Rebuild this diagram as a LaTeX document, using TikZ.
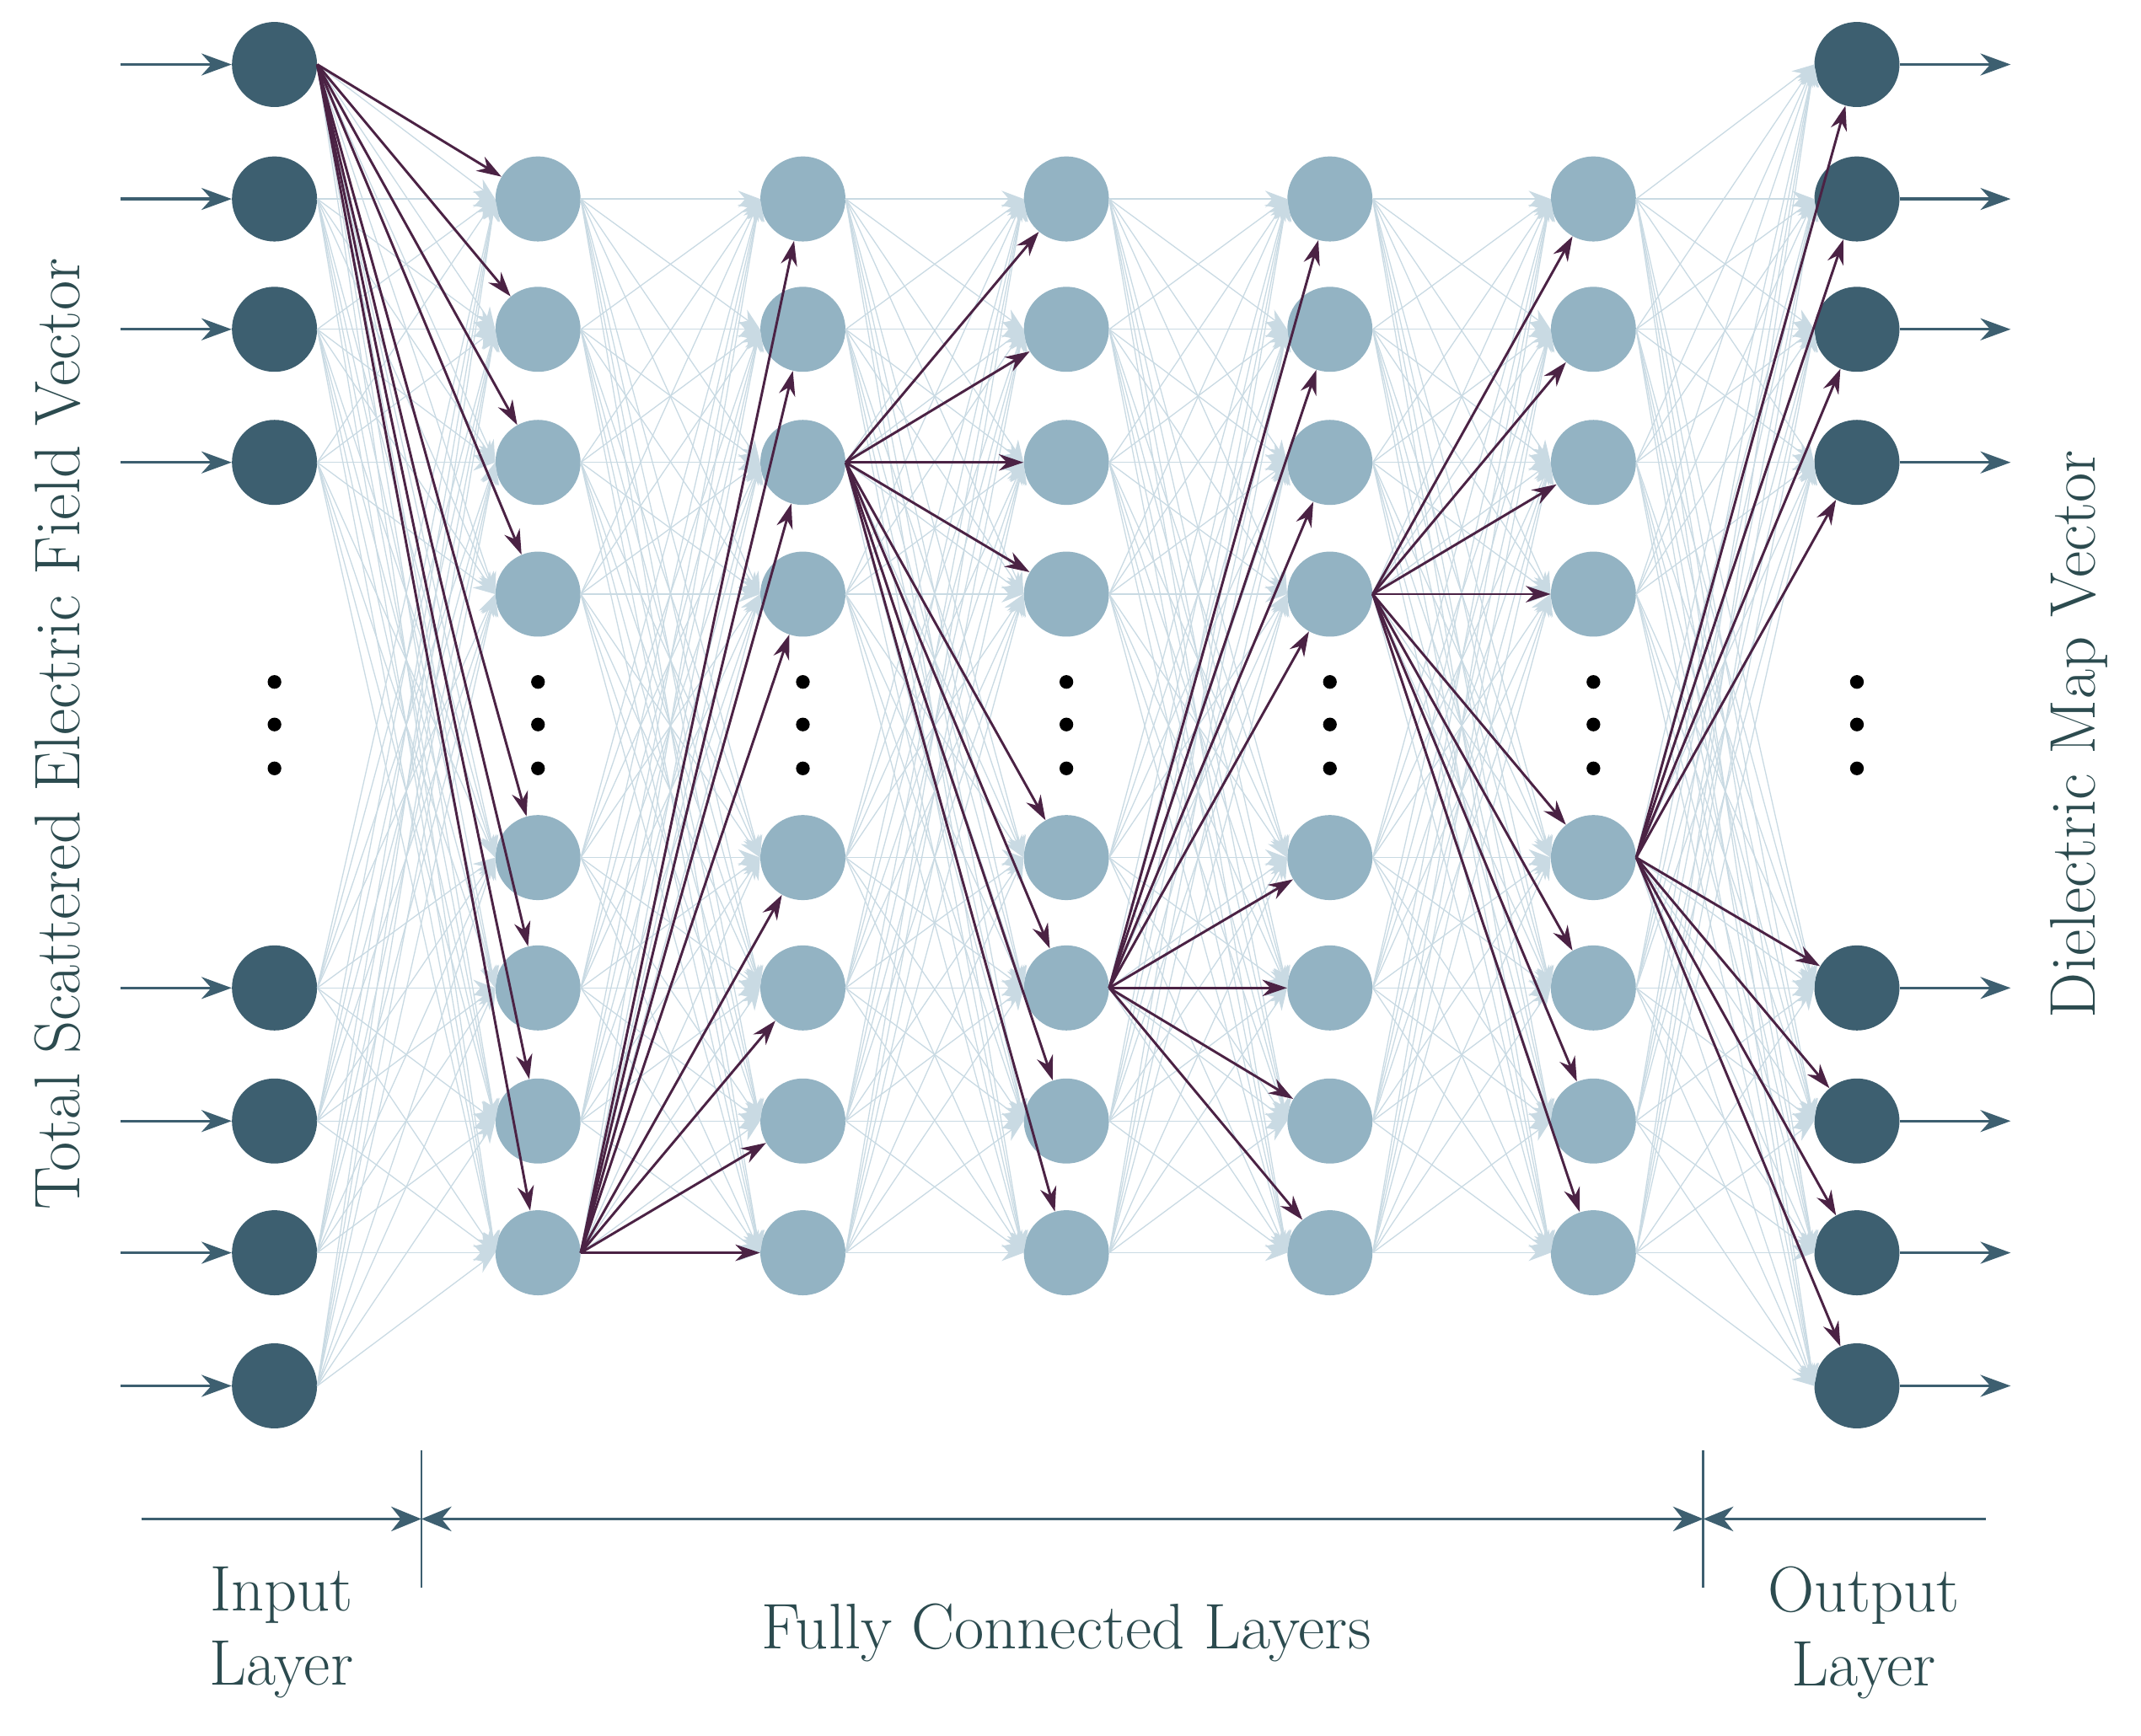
\documentclass[tikz,border=0pt]{standalone}
\usetikzlibrary{arrows.meta}
\begin{document}
\begin{tikzpicture}[x=1pt,y=-1pt,
  dk/.style={circle,fill=darkn,minimum size=62pt,inner sep=0},
  lt/.style={circle,fill=lightn,minimum size=62pt,inner sep=0},
  light/.style={draw=lightl,line width=0.8pt,-{Stealth[length=16pt,width=12pt]}},
  dark/.style={draw=darkp,line width=1.8pt,-{Stealth[length=18pt,width=12pt]}},
  io/.style={draw=darkn,line width=2pt,-{Stealth[length=22pt,width=16pt]}},
  lbl/.style={text=textc,font=\fontsize{47}{54}\selectfont,align=center}]
\definecolor{darkn}{HTML}{3D5F70}
\definecolor{textc}{HTML}{2C4B4F}
\definecolor{lightn}{HTML}{93B3C3}
\definecolor{lightl}{HTML}{C9DAE3}
\definecolor{darkp}{HTML}{4B2244}
\useasboundingbox (0,0) rectangle (1560,1265);
\foreach \i/\y in {0/47,1/145,2/240,3/337,4/720,5/817,6/913,7/1010}{
  \node[dk] (I\i) at (200,\y) {};
  \node[dk] (O\i) at (1353,\y) {};
  \coordinate (ia\i) at (88,\y);
  \coordinate (ob\i) at (1465,\y);
  \draw[io] (ia\i) -- (I\i);
  \draw[io] (O\i) -- (ob\i);
}
\foreach \l/\x in {1/392,2/585,3/777,4/969,5/1161}{
  \foreach \k/\y in {0/145,1/240,2/337,3/433,4/625,5/720,6/817,7/913}{
    \node[lt] (H\l-\k) at (\x,\y) {};
  }
  \foreach \d in {497,528,560}{\fill (\x,\d) circle (5pt);}
}
\foreach \d in {497,528,560}{\fill (200,\d) circle (5pt); \fill (1353,\d) circle (5pt);}
\foreach \a in {0,...,7}{\foreach \b in {0,...,7}{
  \draw[light] (I\a.east) -- (H1-\b.west);
  \draw[light] (H1-\a.east) -- (H2-\b.west);
  \draw[light] (H2-\a.east) -- (H3-\b.west);
  \draw[light] (H3-\a.east) -- (H4-\b.west);
  \draw[light] (H4-\a.east) -- (H5-\b.west);
  \draw[light] (H5-\a.east) -- (O\b.west);
}}
\foreach \b in {0,...,7}{
  \draw[dark] (I0.east) -- (H1-\b);
  \draw[dark] (H1-7.east) -- (H2-\b);
  \draw[dark] (H2-2.east) -- (H3-\b);
  \draw[dark] (H3-5.east) -- (H4-\b);
  \draw[dark] (H4-3.east) -- (H5-\b);
  \draw[dark] (H5-4.east) -- (O\b);
}
\coordinate (L) at (103,1107); \coordinate (A) at (307,1107);
\coordinate (B) at (1241,1107); \coordinate (R) at (1447,1107);
\coordinate (At) at (307,1057); \coordinate (Ab) at (307,1157);
\coordinate (Bt) at (1241,1057); \coordinate (Bb) at (1241,1157);
\draw[darkn,line width=1.5pt] (At) -- (Ab) (Bt) -- (Bb);
\draw[darkn,line width=1.5pt,-{Stealth[length=22pt,width=18pt]}] (L) -- (A);
\draw[darkn,line width=1.5pt,{Stealth[length=22pt,width=18pt]}-{Stealth[length=22pt,width=18pt]}] (A) -- (B);
\draw[darkn,line width=1.5pt,{Stealth[length=22pt,width=18pt]}-] (B) -- (R);
\node[lbl] (t1) at (205,1190) {Input\\Layer};
\node[lbl] (t2) at (777,1190) {Fully Connected Layers};
\node[lbl] (t3) at (1358,1190) {Output\\Layer};
\node[lbl,rotate=90] (t4) at (42,535) {Total Scattered Electric Field Vector};
\node[lbl,rotate=90] (t5) at (1515,535) {Dielectric Map Vector};
\end{tikzpicture}
\end{document}
